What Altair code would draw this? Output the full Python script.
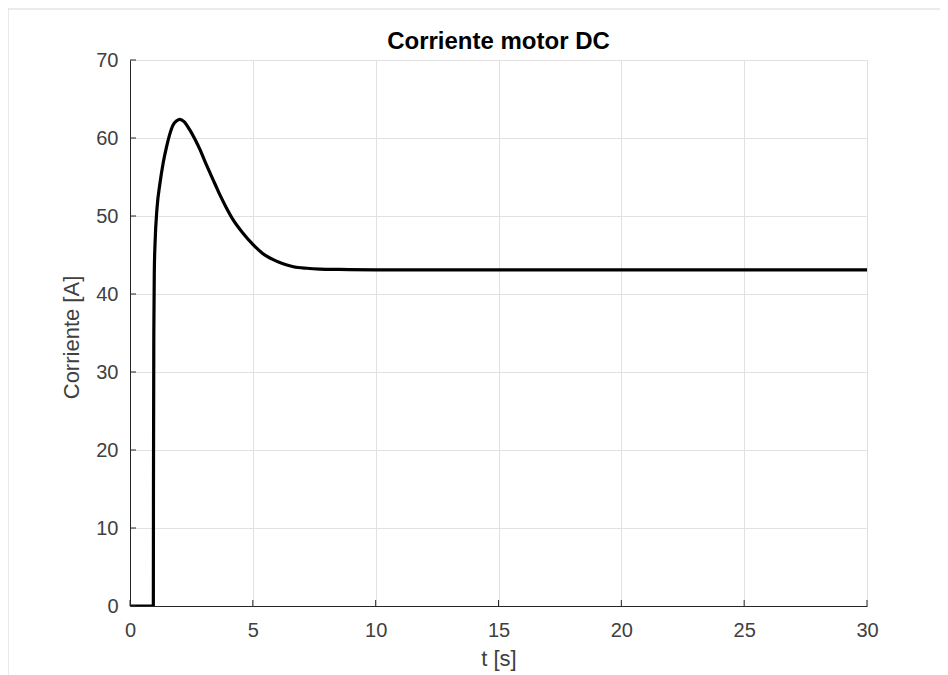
import altair as alt
import pandas as pd

t_values = [0, 0.95, 0.955, 0.97, 0.99, 1.02, 1.1, 1.22, 1.35, 1.49, 1.62, 1.76, 1.9, 2.03,
            2.2, 2.44, 2.65, 2.85, 3.05, 3.26, 3.46, 3.66, 3.9, 4.2, 4.6, 5.02, 5.4, 5.83,
            6.2, 6.65, 7.2, 7.73, 8.5, 10, 15, 20, 25, 30]
current_values = [0, 0, 15, 35, 43, 46.5, 51, 54.2, 56.8, 58.9, 60.5, 61.7, 62.2, 62.4,
                  62.1, 61.0, 59.8, 58.5, 57.0, 55.5, 54.1, 52.7, 51.2, 49.5, 47.8, 46.3, 45.2, 44.4,
                  43.9, 43.5, 43.3, 43.2, 43.15, 43.1, 43.1, 43.1, 43.1, 43.1]
x_ticks = [0, 5, 10, 15, 20, 25, 30]
y_ticks = [0, 10, 20, 30, 40, 50, 60, 70]
title_text = ["Corriente motor DC"]

W, H = 737, 546
df = pd.DataFrame({"t": t_values, "i": current_values})

xscale = alt.Scale(domain=[0, 30], nice=False, zero=False)
yscale = alt.Scale(domain=[0, 70], nice=False)

FONT = "Liberation Sans"
DARK = "#262626"
LABEL = "#404040"

line = alt.Chart(df).mark_line(color="black", strokeWidth=3.2, clip=True, interpolate="monotone").encode(
    x=alt.X("t:Q", scale=xscale, axis=alt.Axis(
        values=x_ticks, title="t [s]", ticks=False, labelPadding=14, labelFlush=False,
        titleY=42, titleBaseline="top")),
    y=alt.Y("i:Q", scale=yscale, axis=alt.Axis(
        values=y_ticks, title="Corriente [A]", ticks=False, labelPadding=12, labelFlush=False,
        titleX=-47, titleY=H / 2 + 4)),
    order=alt.Order("t:Q"),
)

xt = alt.Chart(pd.DataFrame({"v": x_ticks})).mark_rule(color=DARK, strokeWidth=1).encode(
    x=alt.X("v:Q", scale=xscale), y=alt.value(H), y2=alt.value(H - 6))
yt = alt.Chart(pd.DataFrame({"v": y_ticks})).mark_rule(color=DARK, strokeWidth=1).encode(
    y=alt.Y("v:Q", scale=yscale), x=alt.value(0), x2=alt.value(6))

frame_top = alt.Chart(pd.DataFrame({"a": [0]})).mark_rule(color="#d6d6d6", strokeWidth=1, clip=False).encode(
    x=alt.value(-122), x2=alt.value(818), y=alt.value(-51))
frame_left = alt.Chart(pd.DataFrame({"a": [0]})).mark_rule(color="#d6d6d6", strokeWidth=1, clip=False).encode(
    x=alt.value(-122), y=alt.value(-51), y2=alt.value(620))

title = alt.Chart(pd.DataFrame({"label": title_text})).mark_text(
    font=FONT, fontSize=24, fontWeight="bold", color="black", align="center",
    baseline="alphabetic").encode(
    text="label:N", x=alt.value(W / 2), y=alt.value(-11))

chart = alt.layer(line, xt, yt, frame_top, frame_left, title).properties(
    width=W, height=H,
    background="white",
    autosize=alt.AutoSizeParams(type="none"),
    padding={"left": 122, "top": 52, "right": 73, "bottom": 69},
).configure_view(stroke="#e1e1e1", strokeWidth=1).configure_axis(
    domainColor=DARK, domainWidth=1, labelColor=LABEL, labelFont=FONT, labelFontSize=20,
    titleColor=LABEL, titleFont=FONT, titleFontSize=22, titleFontWeight="normal",
    gridColor="#e1e1e1", gridWidth=1,
)

chart.save("out.html", embed_options={"renderer": "svg", "actions": False})
